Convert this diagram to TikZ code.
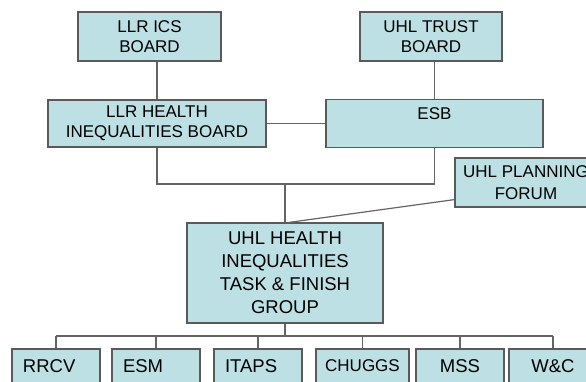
\documentclass[tikz,border=0pt]{standalone}
\usepackage{fontspec}
\setmainfont{Liberation Sans}
\definecolor{boxfill}{RGB}{188,224,228}
\definecolor{boxline}{RGB}{90,90,90}
\definecolor{wire}{RGB}{100,100,100}
\begin{document}
\begin{tikzpicture}[x=1pt,y=-1pt,
  box/.style={draw=boxline,fill=boxfill,line width=1.2pt,inner sep=0pt,align=center,
    font=\fontsize{17}{20.5}\selectfont},
  subbox/.style={box,minimum width=88pt,minimum height=34pt,font=\fontsize{18.5}{22}\selectfont},
  subleft/.style={subbox,align=left,text width=66pt,inner xsep=11pt},
  wireline/.style={draw=wire,line width=1.2pt}]
\useasboundingbox (0,0) rectangle (586,382);
\clip (0,0) rectangle (586,382);
\node [box,minimum width=143pt,minimum height=49pt] (ics) at (149.5,36.5) {LLR ICS\\BOARD};
\node [box,minimum width=142pt,minimum height=49pt] (trust) at (431,36.5) {UHL TRUST\\BOARD};
\node [box,minimum width=218pt,minimum height=47pt] (hib) at (157,123.5) {LLR HEALTH\\INEQUALITIES BOARD};
\node [box,minimum width=217pt,minimum height=48pt] (esb) at (434.5,123.5) {ESB\\\mbox{}};
\node [box,minimum width=142pt,minimum height=49pt,font=\fontsize{17}{22}\selectfont] (forum) at (526,182.5) {UHL PLANNING\\FORUM};
\node [box,minimum width=196pt,minimum height=100pt,font=\fontsize{18.5}{23}\selectfont] (group) at (285,273) {UHL HEALTH\\INEQUALITIES\\TASK \& FINISH\\GROUP};
\node [subleft] (rrcv) at (56,366) {RRCV};
\node [subleft] (esm) at (156,366) {ESM};
\node [subleft] (itaps) at (258,366) {ITAPS};
\node [subbox,minimum width=93pt,font=\fontsize{17}{20}\selectfont] (chuggs) at (362.5,366) {CHUGGS};
\node [subbox] (mss) at (460,366) {MSS};
\node [subbox] (wc) at (553,366) {W\&C};
\coordinate (join) at (285,184);
\coordinate (bus) at (285,336);
\draw [wireline] (hib.north) -- (hib.north |- ics.south);
\draw [wireline] (esb.north) -- (esb.north |- trust.south);
\draw [wireline] (hib.east) -- (esb.west);
\draw [wireline] (hib.south) -- (hib.south |- join) -- (esb.south |- join) -- (esb.south);
\draw [wireline] (join) -- (group.north);
\draw [wireline] ([yshift=8pt]forum.south west) -- ([xshift=4pt]group.north);
\draw [wireline] (group.south) -- (bus);
\draw [wireline] (rrcv.north |- bus) -- (wc.north |- bus);
\foreach \n in {rrcv,esm,itaps,chuggs,mss,wc}
  \draw [wireline] (\n.north) -- (\n.north |- bus);
\end{tikzpicture}
\end{document}
